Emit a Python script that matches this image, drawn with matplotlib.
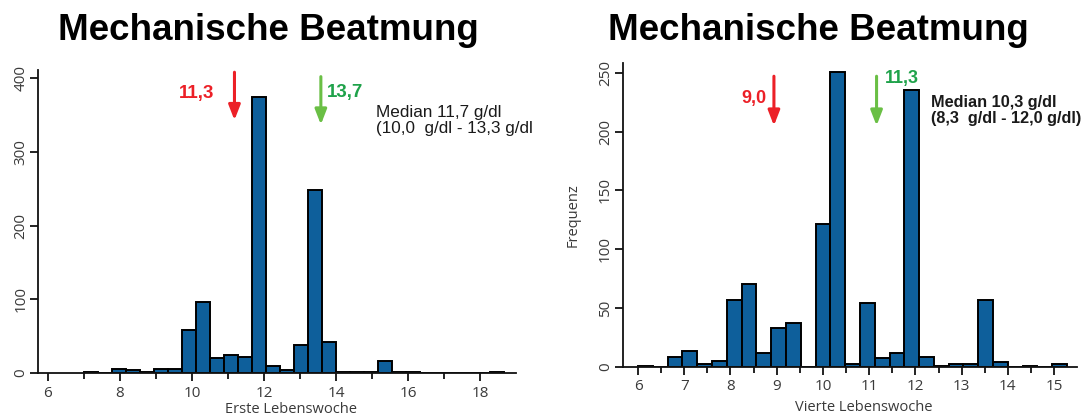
import numpy as np
import matplotlib
matplotlib.use("Agg")
import matplotlib.pyplot as plt

# Hb histogram counts, one value per bin (left: first week, right: fourth week)
left_counts = [2, 0, 6, 4, 2, 6, 6, 58, 96, 20, 24, 22, 375, 9, 4, 38, 248, 42,
               2, 2, 2, 16, 2, 2, 0, 0, 0, 0, 0, 2]
left_bin_start = 7.0
left_bin_width = 0.389

right_counts = [1, 0, 8, 13, 2, 5, 57, 70, 12, 33, 37, 0, 121, 251, 2, 54, 7, 12,
                235, 8, 1, 2, 2, 57, 4, 0, 1, 0, 2]
right_bin_start = 6.0
right_bin_width = 0.32

title = "Mechanische Beatmung"
left_xlabel = "Erste Lebenswoche"
right_xlabel = "Vierte Lebenswoche"
right_ylabel = "Frequenz"

left_low, left_high = "11,3", "13,7"
left_median = "Median 11,7 g/dl\n(10,0  g/dl - 13,3 g/dl"
right_low, right_high = "9,0", "11,3"
right_median = "Median 10,3 g/dl\n(8,3  g/dl - 12,0 g/dl)"

bar_color = "#0e5f9b"
red = "#ec2027"
green_txt = "#1fa24a"
green_arr = "#6abf45"
tick_col = "#3a3a3a"
tick_font = "Open Sans"
arial = "Liberation Sans"

fig = plt.figure(figsize=(10.84, 4.17), dpi=100)
ax1 = fig.add_axes([0.0353, 0.1055, 0.4407, 0.7266])
ax2 = fig.add_axes([0.5745, 0.1206, 0.4188, 0.7276])


def style_axis(ax):
    for s in ["top", "right"]:
        ax.spines[s].set_visible(False)
    for s in ["left", "bottom"]:
        ax.spines[s].set_linewidth(1.3)
        ax.spines[s].set_color("#111111")
    ax.tick_params(axis="both", which="major", length=6, width=1.3,
                   color="#111111", labelcolor=tick_col, labelsize=11)
    ax.tick_params(axis="x", which="minor", length=4, width=1.3, color="#111111")
    ax.tick_params(axis="x", which="major", pad=3)
    ax.tick_params(axis="y", which="major", pad=1)
    for lab in ax.get_xticklabels() + ax.get_yticklabels():
        lab.set_fontfamily(tick_font)
    for lab in ax.get_yticklabels():
        lab.set_rotation(90)
        lab.set_va("center")


arrow = "-|>,head_width=0.35,head_length=0.9"

# left panel
x1 = [left_bin_start + i * left_bin_width for i in range(len(left_counts))]
ax1.bar(x1, left_counts, width=left_bin_width, align="edge", color=bar_color,
        edgecolor="black", linewidth=1.4)
ax1.set_xlim(5.73, 19.0)
ax1.set_ylim(0, 411)
ax1.set_xticks([6, 8, 10, 12, 14, 16, 18])
ax1.set_xticks([7, 9, 11, 13, 15, 17], minor=True)
ax1.set_yticks([0, 100, 200, 300, 400])
style_axis(ax1)
ax1.set_xlabel(left_xlabel, fontfamily=tick_font, fontsize=10.5, color=tick_col, labelpad=0)
ax1.xaxis.set_label_coords(0.529, -0.095)

ax1.annotate("", xy=(11.18, 343), xytext=(11.18, 408),
             arrowprops=dict(arrowstyle=arrow, color=red, lw=2.2, shrinkA=0, shrinkB=0))
ax1.annotate("", xy=(13.58, 337), xytext=(13.58, 402),
             arrowprops=dict(arrowstyle=arrow, color=green_arr, lw=2.2, shrinkA=0, shrinkB=0))
ax1.text(10.61, 379, left_low, color=red, fontsize=13.5, fontweight="bold",
         fontfamily=arial, ha="right", va="center")
ax1.text(13.74, 381, left_high, color=green_txt, fontsize=13.5, fontweight="bold",
         fontfamily=arial, ha="left", va="center")
ax1.text(15.11, 343, left_median, color="#1a1a1a", fontsize=12.3, fontfamily=arial,
         ha="left", va="center", linespacing=1.1)

# right panel
x2 = [right_bin_start + i * right_bin_width for i in range(len(right_counts))]
ax2.bar(x2, right_counts, width=right_bin_width, align="edge", color=bar_color,
        edgecolor="black", linewidth=1.4)
ax2.set_xlim(5.67, 15.49)
ax2.set_ylim(0, 258)
ax2.set_xticks(range(6, 16))
ax2.set_xticks(np.arange(6.5, 15.5, 1.0), minor=True)
ax2.set_yticks([0, 50, 100, 150, 200, 250])
style_axis(ax2)
ax2.set_xlabel(right_xlabel, fontfamily=tick_font, fontsize=10.5, color=tick_col)
ax2.xaxis.set_label_coords(0.531, -0.11)
ax2.set_ylabel(right_ylabel, fontfamily=tick_font, fontsize=10.5, color=tick_col)
ax2.yaxis.set_label_coords(-0.093, 0.5)

ax2.annotate("", xy=(8.94, 205), xytext=(8.94, 247),
             arrowprops=dict(arrowstyle=arrow, color=red, lw=2.2, shrinkA=0, shrinkB=0))
ax2.annotate("", xy=(11.16, 205), xytext=(11.16, 247),
             arrowprops=dict(arrowstyle=arrow, color=green_arr, lw=2.2, shrinkA=0, shrinkB=0))
ax2.text(8.78, 228, right_low, color=red, fontsize=13, fontweight="bold",
         fontfamily=arial, ha="right", va="center")
ax2.text(11.16 + 0.17, 245, right_high, color=green_txt, fontsize=13,
         fontweight="bold", fontfamily=arial, ha="left", va="center")
ax2.text(12.34, 218, right_median, color="#1a1a1a", fontsize=11.7,
         fontweight="bold", fontfamily=arial, ha="left", va="center",
         linespacing=1.1)

fig.text(268.5 / 1084, 1 - 30 / 417, title, ha="center", va="center",
         fontsize=26.5, fontweight="bold", fontfamily=arial)
fig.text(818 / 1084, 1 - 30 / 417, title, ha="center", va="center",
         fontsize=26.5, fontweight="bold", fontfamily=arial)

fig.savefig("out.png", dpi=100)
